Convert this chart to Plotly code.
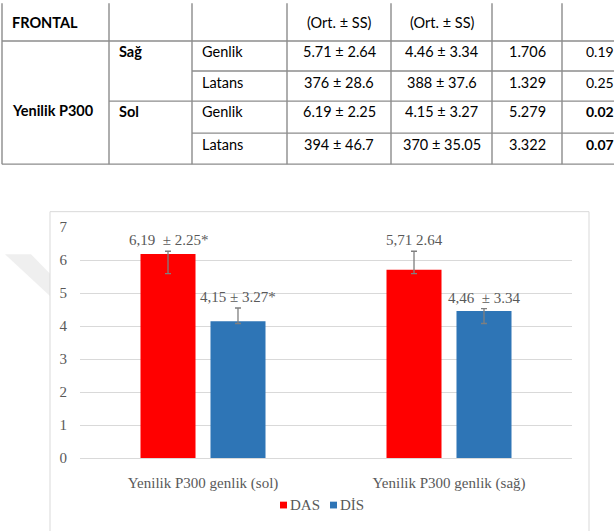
import plotly.graph_objects as go

W, H = 614, 531

def X(px):
    return px / W

def Y(py):
    return 1 - py / H

# ---------------- table data ----------------
header = ["FRONTAL", "", "", "(Ort. ± SS)", "(Ort. ± SS)", "", ""]
group_label = "Yenilik P300"
sides = ["Sağ", "Sol"]
measures = ["Genlik", "Latans", "Genlik", "Latans"]
das_vals = ["5.71 ± 2.64", "376 ± 28.6", "6.19 ± 2.25", "394 ± 46.7"]
dis_vals = ["4.46 ± 3.34", "388 ± 37.6", "4.15 ± 3.27", "370 ± 35.05"]
stat_vals = ["1.706", "1.329", "5.279", "3.322"]
p_vals = ["0.19", "0.25", "0.02", "0.07"]
p_bold = [False, False, True, True]

# ---------------- chart data ----------------
categories = ["Yenilik P300 genlik (sol)", "Yenilik P300 genlik (sağ)"]
series_names = ["DAS", "DİS"]
das_means = [6.19, 5.71]
dis_means = [4.15, 4.46]
das_err_plus = [0.08, 0.56]
das_err_minus = [0.60, 0.12]
dis_err_plus = [0.40, 0.07]
dis_err_minus = [0.07, 0.38]
das_labels = ["6,19\u00a0 ± 2.25*", "5,71 2.64"]
dis_labels = ["4,15 ± 3.27*", "4,46\u00a0 ± 3.34"]

RED = "#FF0000"
BLUE = "#2E75B6"
GREY_TXT = "#595959"
SERIF = "Liberation Serif"
SANS = "Lato"

fig = go.Figure()

err_style = dict(type="data", symmetric=False, color="#7F7F7F", thickness=1.3, width=3)
fig.add_trace(go.Bar(
    x=categories, y=das_means, name=series_names[0], marker=dict(color=RED, line=dict(width=0)),
    error_y=dict(array=das_err_plus, arrayminus=das_err_minus, **err_style),
))
fig.add_trace(go.Bar(
    x=categories, y=dis_means, name=series_names[1], marker=dict(color=BLUE, line=dict(width=0)),
    error_y=dict(array=dis_err_plus, arrayminus=dis_err_minus, **err_style),
))

annotations = []
shapes = []

# bar value labels
for i, c in enumerate(categories):
    annotations.append(dict(x=c, xref="x", y=das_means[i] + das_err_plus[i], yref="y",
                            text=das_labels[i], showarrow=False, xshift=-35, yanchor="bottom",
                            yshift=1, font=dict(family=SERIF, size=15, color=GREY_TXT)))
    annotations.append(dict(x=c, xref="x", y=dis_means[i] + dis_err_plus[i], yref="y",
                            text=dis_labels[i], showarrow=False, xshift=35, yanchor="bottom",
                            yshift=1, font=dict(family=SERIF, size=15, color=GREY_TXT)))

# ---------------- table drawing ----------------
col_x = [2, 109, 192, 287, 391, 492, 562]
LINE = dict(color="#8C8C8C", width=1.4)
for cx in col_x:
    shapes.append(dict(type="line", xref="paper", yref="paper", x0=X(cx), x1=X(cx),
                       y0=Y(-5), y1=Y(161), line=LINE))
h_lines = [(34, 2), (65, 192), (96, 109), (129, 192), (161, 2)]
for yy, x_start in h_lines:
    shapes.append(dict(type="line", xref="paper", yref="paper", x0=X(x_start), x1=X(620),
                       y0=Y(yy), y1=Y(yy), line=LINE))

def tcell(text, x, y, anchor="center", bold=False, size=14.5, family=SANS, color="#000000"):
    t = f"<b>{text}</b>" if bold else text
    annotations.append(dict(x=X(x), y=Y(y), xref="paper", yref="paper", text=t,
                            showarrow=False, xanchor=anchor, yanchor="middle",
                            font=dict(family=family, size=size, color=color)))

# header
tcell(header[0], 10, 15, "left", bold=True)
for j in (3, 4):
    tcell(header[j], (col_x[j] + col_x[j + 1]) / 2, 15)

tcell(group_label, 10, 106, "left", bold=True)
tcell(sides[0], 117, 45, "left", bold=True)
tcell(sides[1], 117, 107, "left", bold=True)
row_text_y = [45, 77, 107, 141]
for r in range(4):
    ty = row_text_y[r]
    tcell(measures[r], 200, ty, "left")
    tcell(das_vals[r], (287 + 391) / 2, ty)
    tcell(dis_vals[r], (391 + 492) / 2, ty)
    tcell(stat_vals[r], (492 + 562) / 2, ty)
    tcell(p_vals[r], 584, ty, "left", bold=p_bold[r], size=14)

# ---------------- chart frame & watermark ----------------
shapes.append(dict(type="path", xref="paper", yref="paper", layer="below",
                   path=f"M {X(5)} {Y(254)} L {X(31)} {Y(254)} L {X(50)} {Y(274)} L {X(50)} {Y(297)} Z",
                   fillcolor="#EFEFEF", line=dict(width=0)))
shapes.append(dict(type="rect", xref="paper", yref="paper", layer="below",
                   x0=X(50), x1=X(589), y0=Y(540), y1=Y(210),
                   fillcolor="white", line=dict(color="#D9D9D9", width=1)))

# ---------------- compact legend (Excel style) ----------------
legend_items = [(series_names[0], RED, 280), (series_names[1], BLUE, 330)]
for name, col, lx in legend_items:
    shapes.append(dict(type="rect", xref="paper", yref="paper",
                       x0=X(lx), x1=X(lx + 7), y0=Y(516), y1=Y(509),
                       fillcolor=col, line=dict(width=0)))
    tcell(name, lx + 8, 512, "left", size=15, family=SERIF, color=GREY_TXT)

fig.update_layout(
    width=W, height=H,
    margin=dict(l=0, r=0, t=0, b=0),
    paper_bgcolor="white", plot_bgcolor="white",
    barmode="group", bargap=0.431, bargroupgap=0.214,
    shapes=shapes, annotations=annotations,
    showlegend=False,
    xaxis=dict(domain=[X(80), X(572)], showline=False, showgrid=False, zeroline=False,
               tickfont=dict(family=SERIF, size=15, color=GREY_TXT), ticks="",
               ticklabelstandoff=14),
    yaxis=dict(domain=[Y(464), Y(226)], range=[0, 7], dtick=1, showline=False,
               showgrid=True, gridcolor="#D9D9D9", gridwidth=1,
               zeroline=True, zerolinecolor="#D9D9D9", zerolinewidth=1,
               tickfont=dict(family=SERIF, size=15, color=GREY_TXT), ticks="",
               ticklabelstandoff=12),
)

fig.write_html("out.html")
